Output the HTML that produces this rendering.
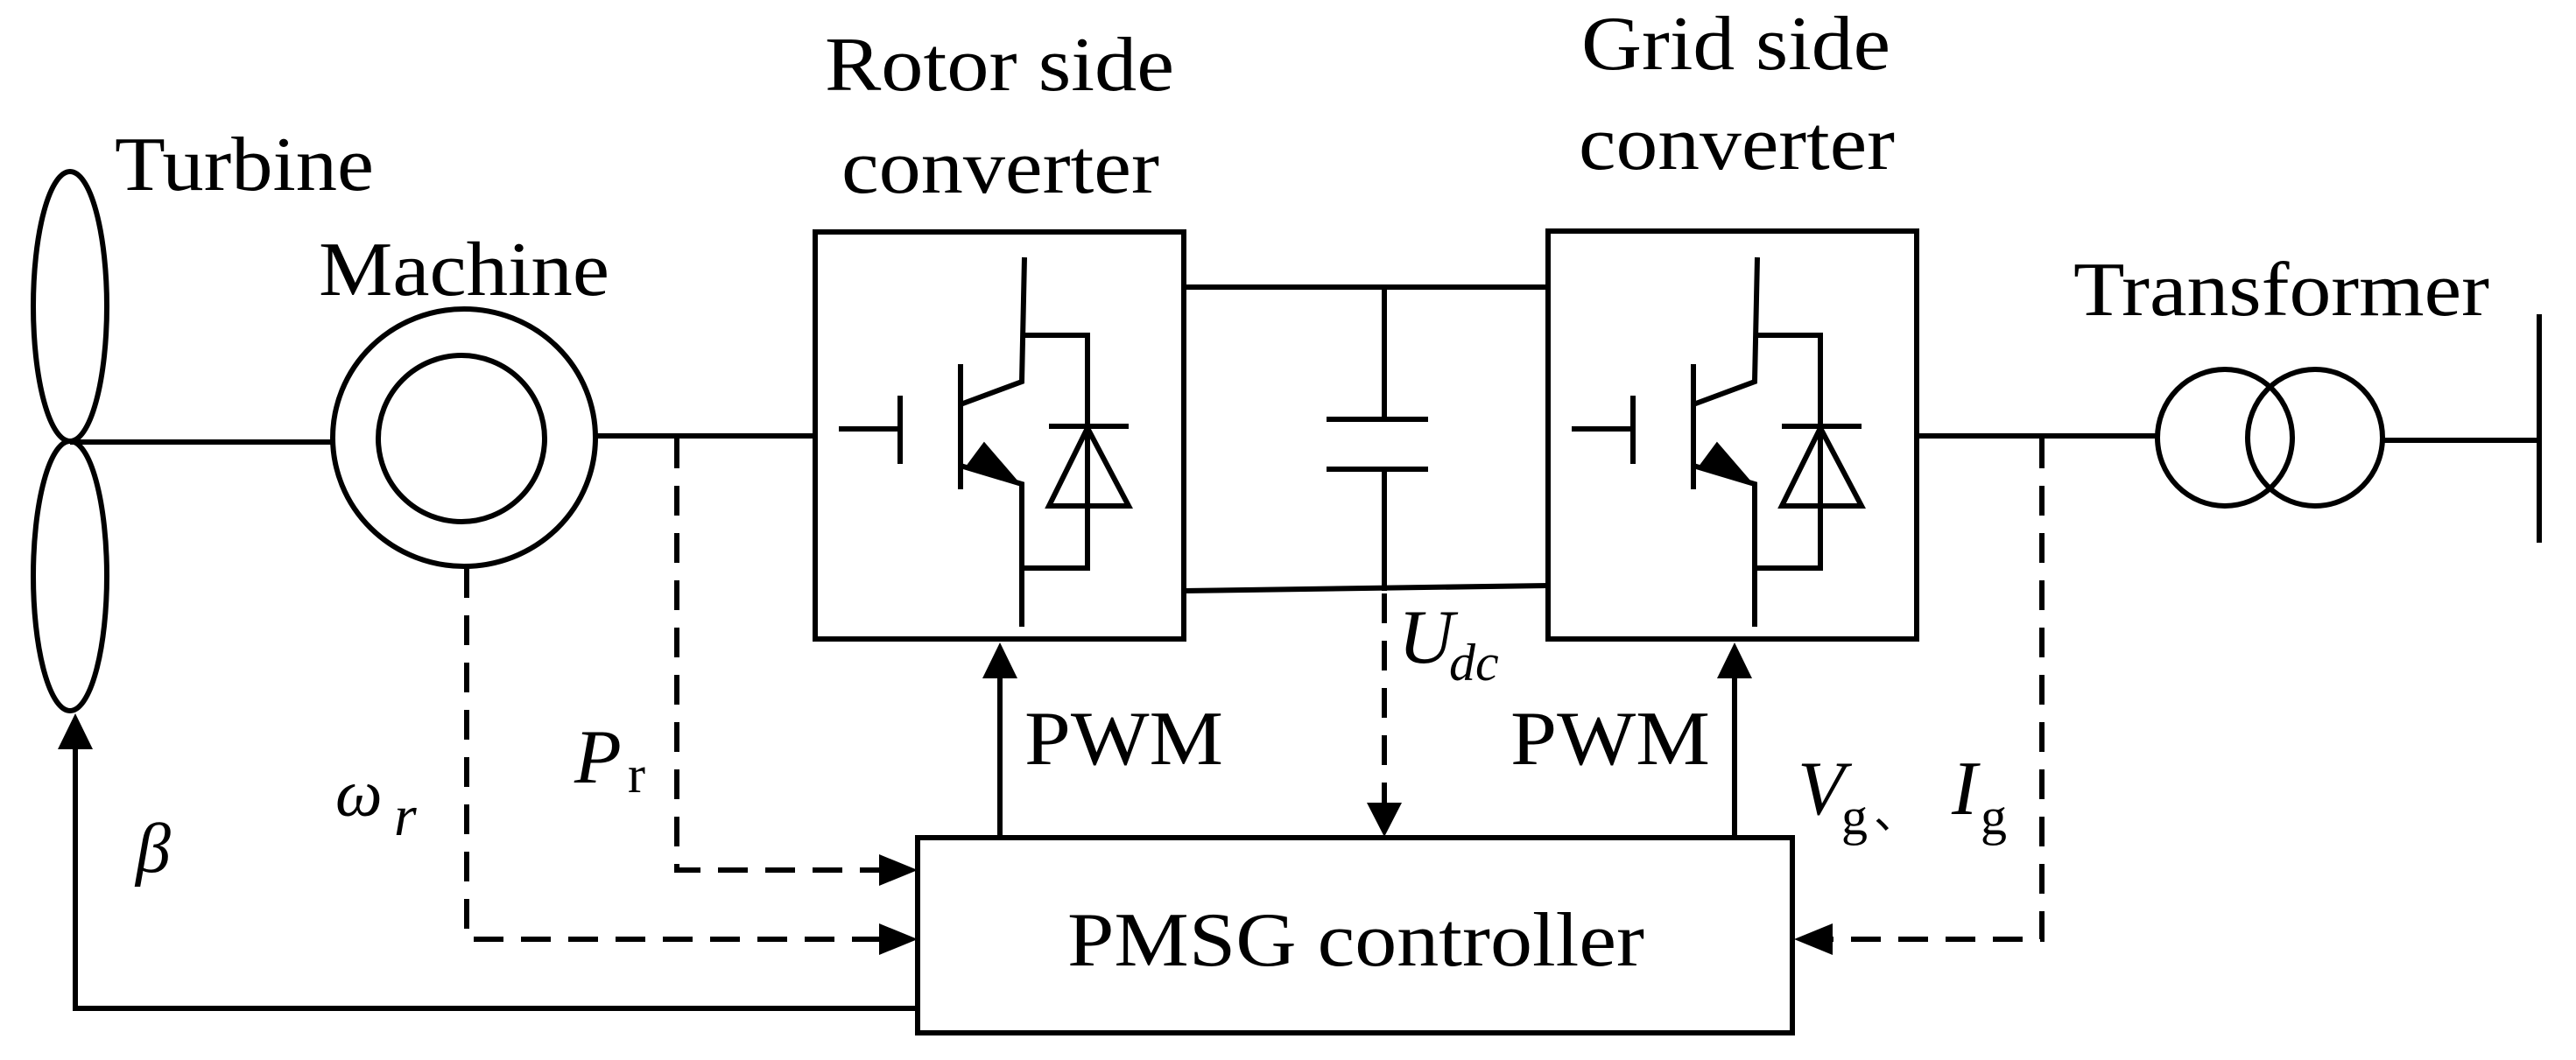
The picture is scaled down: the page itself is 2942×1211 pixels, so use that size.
<!DOCTYPE html>
<html><head><style>html,body{margin:0;padding:0;background:#fff;overflow:hidden}svg{display:block}</style></head><body>
<svg width="2942" height="1211" viewBox="0 0 2942 1211" xmlns="http://www.w3.org/2000/svg">
<g fill="none" stroke="#000" stroke-width="6">
<ellipse cx="80" cy="350" rx="42" ry="154"/>
<ellipse cx="80" cy="658" rx="42" ry="154"/>
<line x1="80" y1="505" x2="380" y2="505"/>
<ellipse cx="530" cy="500" rx="150" ry="147"/>
<ellipse cx="527" cy="501" rx="95" ry="95"/>
<line x1="680" y1="498" x2="931" y2="498"/>
<rect x="931" y="265" width="421" height="465"/>
<g id="igbt">
<line x1="958" y1="490" x2="1028" y2="490"/>
<line x1="1028" y1="452" x2="1028" y2="530"/>
<line x1="1097" y1="416" x2="1097" y2="559"/>
<polyline points="1097,462 1167,436 1170,294"/>
<polyline points="1097,532 1167,553 1167,716"/>
<polyline points="1167,383 1242,383 1242,649 1167,649"/>
<line x1="1198" y1="487" x2="1289" y2="487"/>
<polygon points="1242,489 1198,578 1289,578"/>
<polygon points="1124,507 1104,534 1161,550" fill="#000" stroke-width="3"/>
</g>
<use href="#igbt" x="837"/>
<line x1="1352" y1="328" x2="1768" y2="328"/>
<line x1="1352" y1="675" x2="1768" y2="669"/>
<line x1="1581" y1="328" x2="1581" y2="479"/>
<line x1="1515" y1="479" x2="1631" y2="479"/>
<line x1="1515" y1="536" x2="1631" y2="536"/>
<line x1="1581" y1="536" x2="1581" y2="675"/>
<rect x="1768" y="264" width="421" height="466"/>
<line x1="2189" y1="498" x2="2464" y2="498"/>
<ellipse cx="2541" cy="500" rx="77" ry="78"/>
<ellipse cx="2644" cy="500" rx="77" ry="78"/>
<line x1="2722" y1="503" x2="2900" y2="503"/>
<line x1="2900" y1="359" x2="2900" y2="620"/>
<rect x="1048" y="957" width="999" height="223"/>
<line x1="1142" y1="957" x2="1142" y2="770"/>
<line x1="1981" y1="957" x2="1981" y2="770"/>
<polyline points="1048,1152 86,1152 86,855"/>
<g stroke-dasharray="34,20">
<polyline points="773,501 773,994 1010,994"/>
<polyline points="533,649 533,1073 1010,1073"/>
<polyline points="2332,501 2332,1073 2090,1073"/>
<line x1="1581" y1="678" x2="1581" y2="920"/>
</g>
</g>
<g fill="#000">
<polygon points="1142,734 1122,775 1162,775"/>
<polygon points="1981,734 1961,775 2001,775"/>
<polygon points="86,815 66,856 106,856"/>
<polygon points="1048,994 1004,976 1004,1012"/>
<polygon points="1048,1073 1004,1055 1004,1091"/>
<polygon points="2049,1073 2093,1055 2093,1091"/>
<polygon points="1581,956 1561,917 1601,917"/>
</g>
<g font-family="Liberation Serif, serif" font-size="88" fill="#000">
<text x="131" y="217" textLength="296" lengthAdjust="spacingAndGlyphs">Turbine</text>
<text x="364" y="337" textLength="332" lengthAdjust="spacingAndGlyphs">Machine</text>
<text x="942" y="103" textLength="399" lengthAdjust="spacingAndGlyphs">Rotor side</text>
<text x="961" y="220" textLength="363" lengthAdjust="spacingAndGlyphs">converter</text>
<text x="1806" y="79" textLength="353" lengthAdjust="spacingAndGlyphs">Grid side</text>
<text x="1803" y="193" textLength="361" lengthAdjust="spacingAndGlyphs">converter</text>
<text x="2368" y="360" textLength="475" lengthAdjust="spacingAndGlyphs">Transformer</text>
<text x="1170" y="873" textLength="227" lengthAdjust="spacingAndGlyphs">PWM</text>
<text x="1725" y="873" textLength="228" lengthAdjust="spacingAndGlyphs">PWM</text>
<text x="1219" y="1103" textLength="659" lengthAdjust="spacingAndGlyphs">PMSG controller</text>
<text x="656" y="894" font-style="italic">P</text>
<text x="717" y="905" font-size="60">r</text>
<text x="383" y="932" font-style="italic" font-size="76">ω</text>
<text x="450" y="954" font-style="italic" font-size="66">r</text>
<text x="155" y="996" font-style="italic" font-size="80">β</text>
<text x="1597" y="757" font-style="italic">U</text>
<text x="1655" y="777" font-style="italic" font-size="60">dc</text>
<text x="2053" y="930" font-style="italic">V</text>
<text x="2103" y="953" font-size="60">g</text>
<text x="2140" y="946" font-family="Noto Sans CJK SC, sans-serif" font-size="50">、</text>
<text x="2229" y="930" font-style="italic">I</text>
<text x="2262" y="953" font-size="60">g</text>
</g>
</svg>
</body></html>
